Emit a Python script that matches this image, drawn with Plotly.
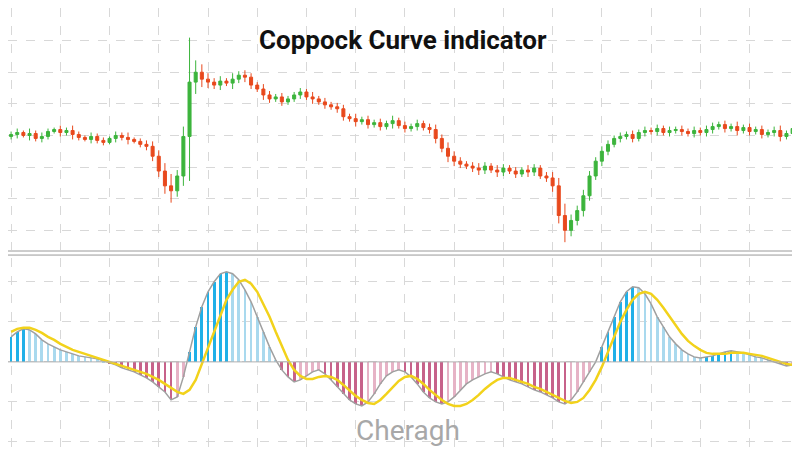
import plotly.graph_objects as go
from plotly.subplots import make_subplots

# candle closes (price units), per-candle wick sizes
closes = [122,124,121,123,118,120,125,127,124,126,122,119,117,120,116,114,118,121,119,117,115,112,110,
          100,85,70,65,
          80,120,175,185,178,175,
          172,176,174,178,182,180,
          172,168,162,158,160,155,158,
          162,165,160,158,155,152,150,148,
          140,138,135,137,132,134,130,133,136,131,128,130,133,129,127,
          118,108,100,95,92,90,88,86,
          90,86,84,88,85,82,86,84,88,80,78,
          70,40,25,
          35,45,60,80,95,105,112,
          118,120,122,118,124,126,125,128,124,126,127,125,123,126,124,127,
          130,132,128,130,126,129,125,127,122,124,126,120,123,128,118,120]
wicks = [3,4,2,5,3,4,3,2,4,3,5,3,2,4,3,3,2,4,3,5,2,3,4,
         5,6,8,12,
         6,10,45,12,8,6,
         4,5,3,6,4,5,
         4,3,5,4,3,4,3,
         3,4,3,5,3,4,3,4,
         4,3,5,3,4,3,4,3,5,3,4,3,4,3,4,
         5,4,6,5,4,3,4,5,
         4,3,5,4,3,4,3,5,4,3,4,
         6,8,12,
         6,5,6,5,4,5,4,
         3,4,3,4,3,4,3,4,3,4,3,4,3,4,3,4,
         4,3,4,3,5,3,4,3,4,3,4,5,3,6,4,5]

coppock = [25,30,33,32,28,
           22,18,15,12,10,8,
           6,5,4,3,1,-1,-3,
           -6,-8,-10,-13,-16,-20,-25,-30,-38,-35,
           -15,10,35,55,70,80,88,90,88,82,72,60,45,30,15,2,
           -8,-15,-20,-18,-14,-10,-8,
           -12,-18,-25,-32,-38,-42,-44,-40,-32,-22,
           -14,-10,-8,-10,-15,-22,-30,
           -36,-40,-42,-40,-35,-28,-22,
           -18,-15,-12,-10,-12,-15,-18,-20,-22,
           -25,-28,-30,-33,-36,-40,-42,-38,-30,
           -20,-10,0,15,30,
           45,60,70,75,74,68,58,45,
           35,25,18,12,8,5,4,5,
           6,8,10,11,10,9,7,5,
           4,2,0,-2,-4,-3,-2,0]
signal = [30,33,34,34,32,
          29,25,22,18,15,12,
          10,8,6,4,2,0,-2,
          -4,-6,-8,-10,-12,-15,-18,-22,-26,-30,
          -32,-28,-18,-2,15,32,48,62,72,80,82,78,70,58,45,30,
          15,2,-8,-14,-17,-17,-15,
          -14,-15,-18,-23,-29,-34,-38,-41,-42,-38,
          -32,-25,-19,-15,-14,-17,-22,
          -28,-33,-38,-42,-44,-44,-42,
          -38,-33,-27,-22,-18,-16,-16,-18,-20,
          -22,-25,-27,-30,-33,-36,-39,-41,-40,
          -36,-28,-18,-5,10,
          25,40,52,62,68,70,68,62,
          54,45,36,28,21,16,12,9,
          8,8,8,9,9,9,8,7,
          6,4,2,0,-2,-3,-4,-4]

n = len(closes)
x = list(range(n))
opens = [closes[0] - 2] + closes[:-1]
highs = [max(o, c) + w for o, c, w in zip(opens, closes, wicks)]
lows = [min(o, c) - w for o, c, w in zip(opens, closes, wicks)]

colors = []
for i, v in enumerate(coppock):
    prev = coppock[i - 1] if i else v
    if v >= 0:
        colors.append("#1fb0e8" if v >= prev else "#a9d9ee")
    else:
        colors.append("#c7628a" if v <= prev else "#e6b3c6")

fig = make_subplots(rows=2, cols=1, shared_xaxes=True)
fig.add_trace(go.Candlestick(x=x, open=opens, high=highs, low=lows, close=closes,
                             increasing=dict(line=dict(color="#3cb43c", width=1), fillcolor="#3cb43c"),
                             decreasing=dict(line=dict(color="#e8491d", width=1), fillcolor="#e8491d"),
                             whiskerwidth=0, showlegend=False), row=1, col=1)
fig.add_trace(go.Bar(x=x, y=coppock, marker=dict(color=colors, line=dict(width=0)),
                     width=0.45, showlegend=False), row=2, col=1)
fig.add_trace(go.Scatter(x=x, y=coppock, mode="lines", line=dict(color="#a0a0a0", width=1.5),
                         showlegend=False), row=2, col=1)
fig.add_trace(go.Scatter(x=x, y=signal, mode="lines", line=dict(color="#f2d21b", width=2.5),
                         showlegend=False), row=2, col=1)

grid = dict(showgrid=True, gridcolor="#d8d8d8", griddash="dash", gridwidth=1,
            showticklabels=False, zeroline=False, ticks="")
fig.update_xaxes(range=[-0.5, n - 0.5], dtick=8, tick0=0, rangeslider_visible=False, **grid)
fig.update_yaxes(range=[5, 250], dtick=32, tick0=25, domain=[0.462, 1], row=1, col=1, **grid)
fig.update_yaxes(range=[-96, 104], dtick=40, tick0=0, domain=[0, 0.445], row=2, col=1, **grid)

fig.add_shape(type="line", xref="paper", yref="paper", x0=0, x1=1, y0=0.46, y1=0.46,
              line=dict(color="#9a9a9a", width=1))
fig.add_shape(type="line", xref="paper", yref="paper", x0=0, x1=1, y0=0.451, y1=0.451,
              line=dict(color="#9a9a9a", width=1))
fig.add_shape(type="line", xref="x2", yref="y2", x0=-0.5, x1=n - 0.5, y0=0, y1=0,
              line=dict(color="#b0b0b0", width=1))

fig.add_annotation(text="<b>Coppock Curve indicator</b>", x=0.494, y=0.928, xref="paper", yref="paper",
                   yanchor="middle", showarrow=False,
                   font=dict(family="Roboto", size=26, color="#111111"))
fig.add_annotation(text="Cheragh", x=0.5, y=0.062, xref="paper", yref="paper", yanchor="middle",
                   showarrow=False, font=dict(family="Roboto", size=28, color="#a8a8a8"))

fig.update_layout(width=800, height=450, margin=dict(l=0, r=0, t=0, b=0),
                  plot_bgcolor="white", paper_bgcolor="white", bargap=0)
fig.write_html("out.html")
